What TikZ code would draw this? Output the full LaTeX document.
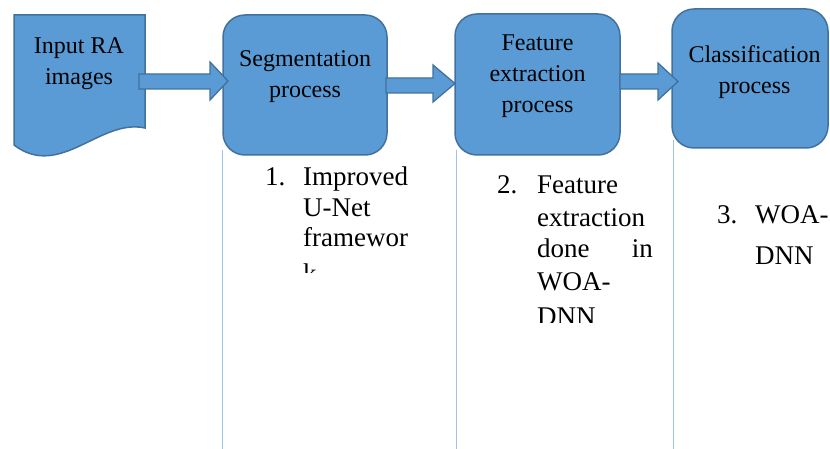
\documentclass[tikz,border=0pt]{standalone}
\usepackage{fontspec}
\setmainfont{Liberation Serif}
\definecolor{boxfill}{HTML}{5B9BD5}
\definecolor{boxline}{HTML}{41719C}
\definecolor{framecol}{HTML}{9DC3E6}
\tikzset{
  procbox/.style={draw=boxline, fill=boxfill, line width=1.5pt, rounded corners=22pt, inner sep=0pt},
  blockarrow/.style={draw=boxline, fill=boxfill, line width=1.3pt, line join=miter},
  boxtext/.style={font=\fontsize{24}{31}\selectfont, align=center, inner sep=0pt, text=black},
  listtext/.style={font=\fontsize{27}{31}\selectfont, anchor=base west, inner sep=0pt},
  frameline/.style={draw=framecol, line width=1pt}
}
\begin{document}
\begin{tikzpicture}[x=1pt,y=-1pt]
\useasboundingbox (0,0) rectangle (830,449);
% frame lines of text boxes
\coordinate (f1t) at (222.5,150); \coordinate (f1b) at (222.5,449);
\coordinate (f2t) at (456,150);   \coordinate (f2b) at (456,449);
\coordinate (f3t) at (673,140);   \coordinate (f3b) at (673,449);
\draw[frameline] (f1t) -- (f1b);
\draw[frameline] (f2t) -- (f2b);
\draw[frameline] (f3t) -- (f3b);
% document shape
\draw[draw=boxline, fill=boxfill, line width=1.5pt]
  (14,15) -- (145,15) -- (145,128) .. controls (100,118) and (60,180) .. (14,145) -- cycle;
\node[boxtext] (input) at (79,64) {Input RA\\images};
% process boxes
\node[procbox, minimum width=164pt, minimum height=140pt] (seg) at (305,85) {};
\node[procbox, minimum width=165pt, minimum height=141pt] (feat) at (537.5,84.5) {};
\node[procbox, minimum width=156pt, minimum height=139pt] (cls) at (750,78.5) {};
\node[boxtext] (segt) at (305,77) {Segmentation\\process};
\node[boxtext] (featt) at (537.5,76) {Feature\\extraction\\process};
\node[boxtext] (clst) at (754.5,72) {Classification\\process};
% block arrows
\draw[blockarrow] (139,74) -- (210,74) -- (210,62) -- (228,81) -- (210,100) -- (210,89) -- (139,89) -- cycle;
\draw[blockarrow] (386,78) -- (433,78) -- (433,65) -- (455,83.5) -- (433,102) -- (433,93) -- (386,93) -- cycle;
\draw[blockarrow] (620,74) -- (658,74) -- (658,63) -- (678,81.5) -- (658,100) -- (658,89) -- (620,89) -- cycle;
% list texts
\begin{scope}
\clip (224,156) rectangle (455,272);
\node[listtext] (n1) at (265,186) {1.};
\node[listtext] (l1a) at (303,186) {Improved};
\node[listtext] (l1b) at (303,216.5) {U-Net};
\node[listtext] (l1c) at (303,247) {framewor};
\node[listtext] (l1d) at (303,283) {k};
\end{scope}
\begin{scope}
\clip (457,156) rectangle (672,322);
\node[listtext] (n2) at (497,194) {2.};
\node[listtext] (l2a) at (537,194) {Feature};
\node[listtext] (l2b) at (537,226) {extraction};
\node[listtext] (l2c) at (537,258) {done};
\node[listtext, anchor=base east] (l2d) at (653,258) {in};
\node[listtext] (l2e) at (537,290) {WOA-};
\node[listtext] (l2f) at (537,325) {DNN};
\end{scope}
\node[listtext] (n3) at (717,224) {3.};
\node[listtext] (l3a) at (755,224) {WOA-};
\node[listtext] (l3b) at (755,264) {DNN};
\end{tikzpicture}
\end{document}
